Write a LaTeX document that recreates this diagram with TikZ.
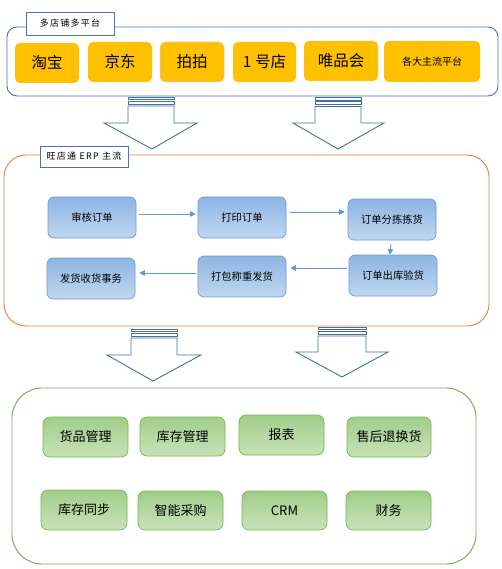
\documentclass[tikz,border=0pt]{standalone}
\usepackage{fontspec}
\setmainfont{Noto Sans CJK SC}
\newfontfamily\spacedcjk[LetterSpace=14]{Noto Sans CJK SC}
\usetikzlibrary{arrows.meta,calc}
\definecolor{yel}{RGB}{255,192,0}
\definecolor{topblue}{RGB}{68,114,196}
\definecolor{arrblue}{RGB}{65,113,156}
\definecolor{orng}{RGB}{237,125,49}
\definecolor{grn}{RGB}{112,173,71}
\definecolor{bluetop}{RGB}{142,180,227}
\definecolor{bluebot}{RGB}{192,215,240}
\definecolor{blueedge}{RGB}{108,155,210}
\definecolor{grntop}{RGB}{160,205,138}
\definecolor{grnbot}{RGB}{200,226,184}
\definecolor{grnedge}{RGB}{122,180,80}
\definecolor{flow}{RGB}{91,155,213}
\newcommand\blockarrow[8]{%
  \draw[blockstyle] (#1,#3) rectangle (#2,{#3+2.5});
  \draw[blockstyle] (#1,{#3+4}) rectangle (#2,{#3+7});
  \draw[blockstyle] (#1,{#3+9}) -- (#1,#4) -- (#5,#4) -- (#7,#8) -- (#6,#4) -- (#2,#4) -- (#2,{#3+9}) -- cycle;
}
\begin{document}
\begin{tikzpicture}[x=1pt,y=-1pt,
  blockstyle/.style={draw=arrblue, fill=white, line width=0.9pt, line join=miter},
  outerbox/.style={line width=0.9pt, fill=white},
  labelbox/.style={draw=topblue, fill=white, line width=0.9pt, inner sep=0pt, font=\spacedcjk\fontsize{9}{11}\selectfont},
  ybox/.style={rectangle, rounded corners=5pt, fill=yel, inner sep=0pt, font=\fontsize{15.5}{18}\selectfont},
  bbox/.style={rectangle, rounded corners=6pt, top color=bluetop, bottom color=bluebot, draw=blueedge, line width=0.7pt, inner sep=0pt, minimum width=88pt, minimum height=41pt, font=\fontsize{10.3}{12}\selectfont},
  gbox/.style={rectangle, rounded corners=7pt, top color=grntop, bottom color=grnbot, draw=grnedge, line width=0.7pt, inner sep=0pt, minimum width=85pt, minimum height=40pt, font=\fontsize{13}{15}\selectfont},
  flowarrow/.style={draw=flow, line width=0.9pt, -{Triangle[length=5.5pt,width=5.5pt]}}
]
\useasboundingbox (0,0) rectangle (501,569);
% ---------- top section
\draw[outerbox, draw=topblue, rounded corners=10pt] (7,27) rectangle (498,96);
\node[labelbox, minimum width=88pt, minimum height=23pt] (lbl1) at (70,23.5) {多店铺多平台};
\node[ybox, minimum width=64pt, minimum height=40pt] (y1) at (47,63) {淘宝};
\node[ybox, minimum width=64pt, minimum height=40pt] (y2) at (120,62) {京东};
\node[ybox, minimum width=64pt, minimum height=40pt, draw={rgb,255:red,197;green,213;blue,234}, line width=0.5pt] (y3) at (192,62) {拍拍};
\node[ybox, minimum width=63pt, minimum height=40pt] (y4) at (264.5,62) {1 号店};
\node[ybox, minimum width=74pt, minimum height=40pt] (y5) at (341,61) {唯品会};
\node[ybox, minimum width=96pt, minimum height=41pt, font=\fontsize{10}{12}\selectfont] (y6) at (432,61.5) {各大主流平台};
% ---------- middle section
\draw[outerbox, draw=orng, rounded corners=22pt] (4,155) rectangle (489,326);
\node[labelbox, minimum width=88pt, minimum height=21pt] (lbl2) at (84,156.5) {旺店通 ERP 主流};
\node[bbox] (b1) at (92,217.5) {审核订单};
\node[bbox] (b2) at (242,217.5) {打印订单};
\node[bbox] (b3) at (392,219.5) {订单分拣拣货};
\node[bbox] (b4) at (393,275.5) {订单出库验货};
\node[bbox] (b5) at (242,276.5) {打包称重发货};
\node[bbox] (b6) at (91,278.5) {发货收货事务};
\draw[flowarrow] ([xshift=3pt,yshift=3.5pt]b1.east) -- ([xshift=-2pt,yshift=3.5pt]b2.west);
\draw[flowarrow] ([xshift=4pt,yshift=5.5pt]b2.east) -- ([xshift=-3pt,yshift=7.5pt]b3.west);
\draw[flowarrow] ([xshift=-1pt,yshift=-4pt]b3.south) -- ([xshift=-3pt]b4.north);
\draw[flowarrow] ([xshift=-2pt,yshift=7.5pt]b4.west) -- ([xshift=4pt,yshift=8.5pt]b5.east);
\draw[flowarrow] ([xshift=-2pt,yshift=3.5pt]b5.west) -- ([xshift=4pt,yshift=5.5pt]b6.east);
% ---------- bottom section
\draw[outerbox, draw=grn, rounded corners=30pt] (12,388) rectangle (476,564);
\node[gbox] (g1) at (85.5,437) {货品管理};
\node[gbox, minimum height=39pt] (g2) at (182.5,436.5) {库存管理};
\node[gbox] (g3) at (281.5,435) {报表};
\node[gbox, minimum width=84pt] (g4) at (389,437) {售后退换货};
\node[gbox, minimum width=86pt] (g5) at (84,510) {库存同步};
\node[gbox, minimum height=39pt] (g6) at (180.5,510.5) {智能采购};
\node[gbox, minimum height=39pt] (g7) at (284.5,510.5) {CRM};
\node[gbox, minimum height=39pt] (g8) at (388.5,510.5) {财务};
% ---------- block arrows
\blockarrow{128}{174}{97}{123}{104}{197}{152}{149}
\blockarrow{315}{361}{97.5}{123}{293}{384}{338}{149}
\blockarrow{131}{177}{329}{355}{107}{201}{153}{381}
\blockarrow{318}{366}{327}{352}{296}{388}{342}{377}
\end{tikzpicture}
\end{document}
